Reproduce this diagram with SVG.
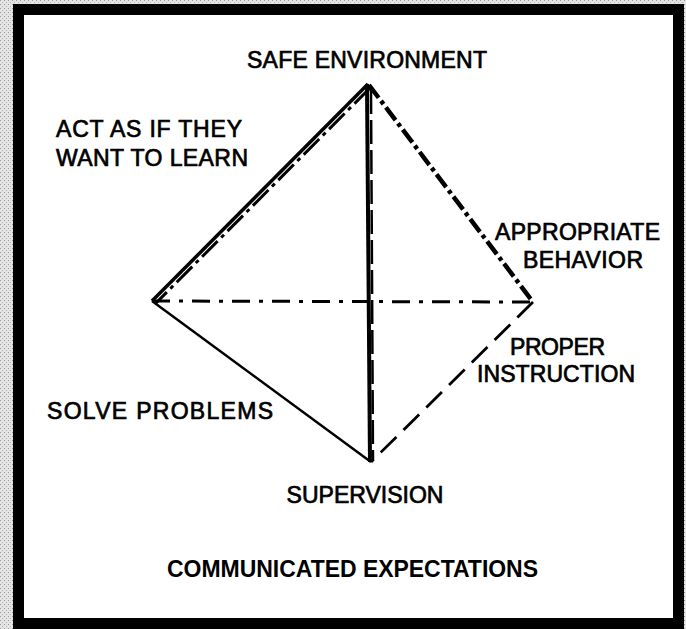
<svg xmlns="http://www.w3.org/2000/svg" width="686" height="629" viewBox="0 0 686 629">
<defs>
<pattern id="dots" width="4" height="4" patternUnits="userSpaceOnUse">
<rect width="4" height="4" fill="#e4e4e4"/>
<rect x="0" y="0" width="1" height="1" fill="#9a9a9a"/>
<rect x="2" y="2" width="1" height="1" fill="#b0b0b0"/>
</pattern>
<style>
.lbl{font-family:"Liberation Sans",Arial,sans-serif;font-size:23px;fill:#000;stroke:#000;stroke-width:0.7}
.ttl{font-family:"Liberation Sans",Arial,sans-serif;font-size:23px;font-weight:bold;fill:#000}
.edge{fill:none;stroke:#000;stroke-linecap:butt;stroke-linejoin:round}
</style>
</defs>
<rect x="0" y="0" width="686" height="629" fill="url(#dots)"/>
<rect id="frame" x="18.5" y="9.5" width="660" height="614" fill="#fff" stroke="#000" stroke-width="11"/>
<g id="connectors">
<line class="edge" x1="368" y1="84" x2="152" y2="301" stroke-width="3.5"/>
<line class="edge" x1="370" y1="88" x2="156" y2="303" stroke-width="3" stroke-dasharray="22 5 4 5"/>
<line class="edge" x1="367" y1="84" x2="370" y2="462" stroke-width="4"/>
<line class="edge" x1="371" y1="90" x2="373" y2="460" stroke-width="2.5" stroke-dasharray="24 6"/>
<line class="edge" x1="369" y1="85" x2="533" y2="302" stroke-width="4.5" stroke-dasharray="16 4 4 4"/>
<line class="edge" x1="152" y1="301" x2="533" y2="302" stroke-width="3" stroke-dasharray="18 9 4 9"/>
<line class="edge" x1="152" y1="301" x2="371" y2="462" stroke-width="2.5"/>
<line class="edge" x1="533" y1="302" x2="371" y2="462" stroke-width="2.8" stroke-dasharray="22 10"/>
</g>
<g id="node-safe-environment"><text class="lbl" x="247" y="68" textLength="240">SAFE ENVIRONMENT</text></g>
<g id="node-act-as-if"><text class="lbl" x="56" y="137" textLength="186">ACT AS IF THEY</text><text class="lbl" x="56" y="166" textLength="192">WANT TO LEARN</text></g>
<g id="node-appropriate-behavior"><text class="lbl" x="495" y="240" textLength="165">APPROPRIATE</text><text class="lbl" x="523" y="268" textLength="120">BEHAVIOR</text></g>
<g id="node-proper-instruction"><text class="lbl" x="510" y="355" textLength="95">PROPER</text><text class="lbl" x="477" y="382" textLength="158">INSTRUCTION</text></g>
<g id="node-solve-problems"><text class="lbl" x="47" y="419" textLength="226">SOLVE PROBLEMS</text></g>
<g id="node-supervision"><text class="lbl" x="365" y="503" text-anchor="middle">SUPERVISION</text></g>
<g id="node-communicated"><text class="ttl" x="167" y="577" textLength="371">COMMUNICATED EXPECTATIONS</text></g>
</svg>
